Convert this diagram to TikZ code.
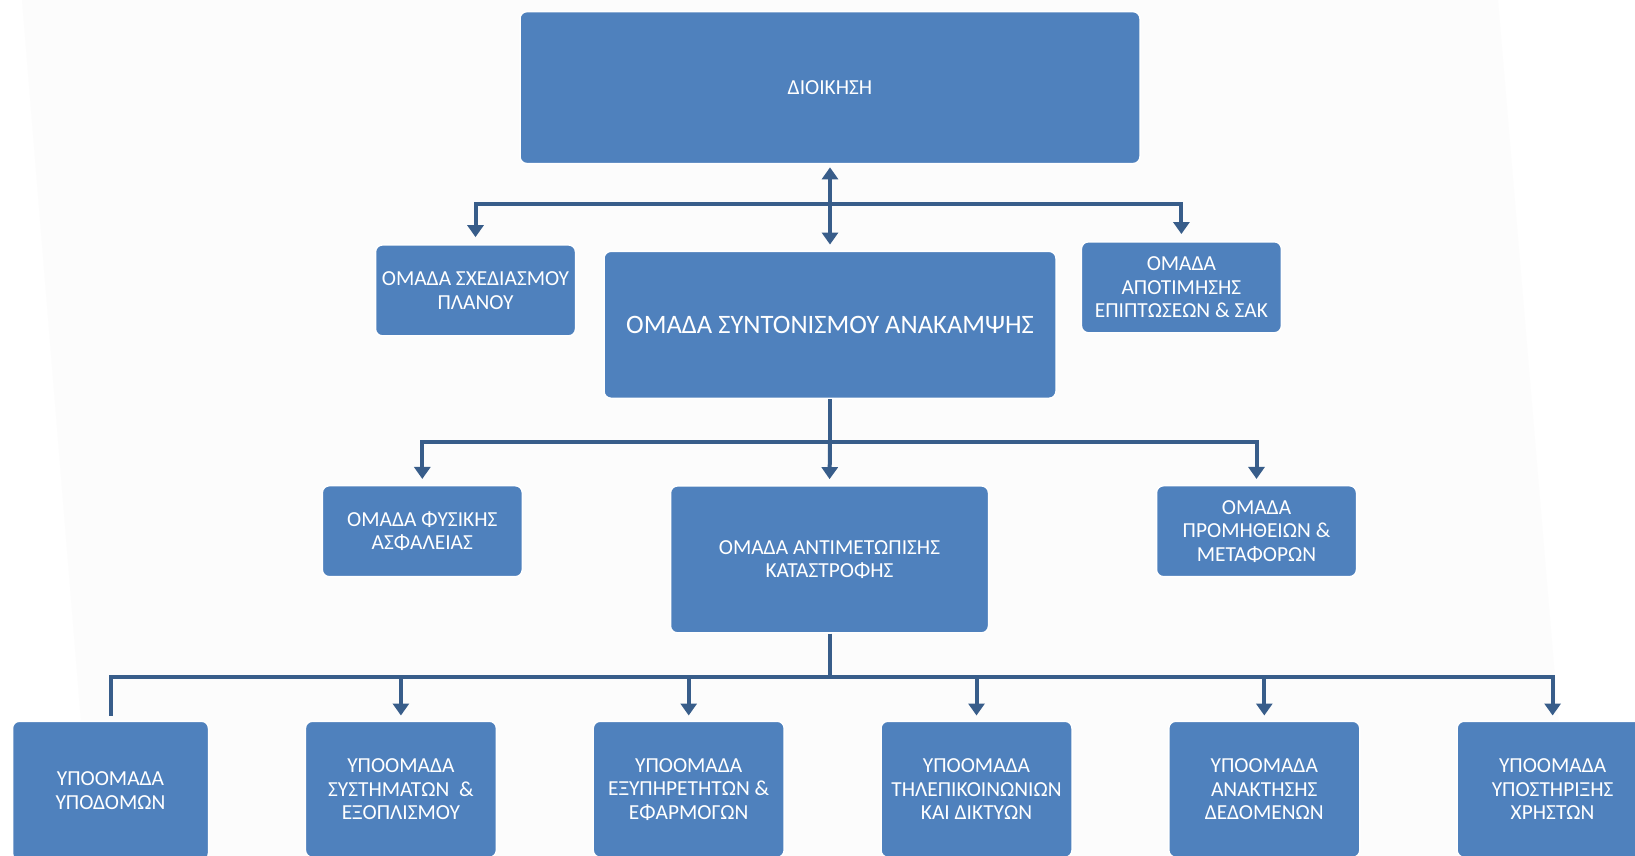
\documentclass[tikz,border=0pt]{standalone}
\usepackage{fontspec}
\setmainfont{Carlito}
\usetikzlibrary{arrows.meta}
\definecolor{boxblue}{RGB}{79,129,189}
\definecolor{linkblue}{RGB}{56,93,138}
\definecolor{paper}{RGB}{252,252,252}
\tikzset{
  unit/.style={rectangle, rounded corners=7pt, fill=boxblue, draw=white,
    line width=1.5pt, text=white, align=center, inner sep=0pt,
    font=\fontsize{21.4}{23.5}\selectfont},
  link/.style={draw=linkblue, line width=4pt, line join=miter},
  tip/.style={-{Triangle[length=12pt,width=16pt]}},
  bitip/.style={{Triangle[length=12pt,width=16pt]}-{Triangle[length=12pt,width=16pt]}}
}
\begin{document}
\begin{tikzpicture}[x=1pt,y=-1pt]
\useasboundingbox (0,0) rectangle (1635,856);
\clip (0,0) rectangle (1635,856);
\fill[white] (0,0) rectangle (1635,856);
\fill[paper] (22,0) -- (1498,0) -- (1570,856) -- (92,856) -- cycle;

% management and the three groups below it
\node[unit, minimum width=620, minimum height=152] (dioik) at (830,87.6) {ΔΙΟΙΚΗΣΗ};
\node[unit, minimum width=200, minimum height=91] (plan) at (475.5,290.4) {ΟΜΑΔΑ ΣΧΕΔΙΑΣΜΟΥ\\ΠΛΑΝΟΥ};
\node[unit, minimum width=452, minimum height=147, font=\fontsize{26.6}{30}\selectfont] (synt) at (830,324.8) {ΟΜΑΔΑ ΣΥΝΤΟΝΙΣΜΟΥ ΑΝΑΚΑΜΨΗΣ};
\node[unit, minimum width=200, minimum height=91] (apot) at (1181.4,287.3) {ΟΜΑΔΑ\\ΑΠΟΤΙΜΗΣΗΣ\\ΕΠΙΠΤΩΣΕΩΝ \& ΣΑΚ};

% second level
\node[unit, minimum width=200, minimum height=91] (fys) at (422.3,531.2) {ΟΜΑΔΑ ΦΥΣΙΚΗΣ\\ΑΣΦΑΛΕΙΑΣ};
\node[unit, minimum width=318, minimum height=147] (antim) at (829.5,559.4) {ΟΜΑΔΑ ΑΝΤΙΜΕΤΩΠΙΣΗΣ\\ΚΑΤΑΣΤΡΟΦΗΣ};
\node[unit, minimum width=200, minimum height=91] (prom) at (1256.5,531.2) {ΟΜΑΔΑ\\ΠΡΟΜΗΘΕΙΩΝ \&\\ΜΕΤΑΦΟΡΩΝ};

% sub-groups
\node[unit, minimum width=196, minimum height=139, anchor=north] (ypod) at (110.5,720.5) {ΥΠΟΟΜΑΔΑ\\ΥΠΟΔΟΜΩΝ};
\node[unit, minimum width=191, minimum height=136, anchor=north] (syst) at (400.9,720.5) {ΥΠΟΟΜΑΔΑ\\ΣΥΣΤΗΜΑΤΩΝ~~\&\\ΕΞΟΠΛΙΣΜΟΥ};
\node[unit, minimum width=191, minimum height=136, anchor=north] (exyp) at (688.7,720.5) {ΥΠΟΟΜΑΔΑ\\ΕΞΥΠΗΡΕΤΗΤΩΝ \&\\ΕΦΑΡΜΟΓΩΝ};
\node[unit, minimum width=191, minimum height=136, anchor=north] (tele) at (976.5,720.5) {ΥΠΟΟΜΑΔΑ\\ΤΗΛΕΠΙΚΟΙΝΩΝΙΩΝ\\ΚΑΙ ΔΙΚΤΥΩΝ};
\node[unit, minimum width=191, minimum height=136, anchor=north] (anak) at (1264.3,720.5) {ΥΠΟΟΜΑΔΑ\\ΑΝΑΚΤΗΣΗΣ\\ΔΕΔΟΜΕΝΩΝ};
\node[unit, minimum width=191, minimum height=136, anchor=north] (ypos) at (1552.6,720.5) {ΥΠΟΟΜΑΔΑ\\ΥΠΟΣΤΗΡΙΞΗΣ\\ΧΡΗΣΤΩΝ};

% branch points
\coordinate (hubA) at (830,204.4);
\coordinate (hubB) at (830,442.1);
\coordinate (hubC) at (829.5,676.7);

% first branch
\draw[link, bitip, shorten <=3pt, shorten >=6pt] (dioik.south) -- (synt.north);
\draw[link, tip, shorten >=7pt] (hubA) -| (plan.north);
\draw[link, tip, shorten >=7pt] (hubA) -| (apot.north);

% second branch
\draw[link] (synt.south) -- (hubB);
\draw[link, tip, shorten >=6pt] (hubB) -| (fys.north);
\draw[link, tip, shorten >=6pt] (hubB) -- (antim.north);
\draw[link, tip, shorten >=6pt] (hubB) -| (prom.north);

% third branch
\draw[link] (antim.south) -- (hubC);
\draw[link, shorten >=5pt] (hubC) -| (ypod.north);
\draw[link, tip, shorten >=5pt] (hubC) -| (syst.north);
\draw[link, tip, shorten >=5pt] (hubC) -| (exyp.north);
\draw[link, tip, shorten >=5pt] (hubC) -| (tele.north);
\draw[link, tip, shorten >=5pt] (hubC) -| (anak.north);
\draw[link, tip, shorten >=5pt] (hubC) -| (ypos.north);
\end{tikzpicture}
\end{document}
